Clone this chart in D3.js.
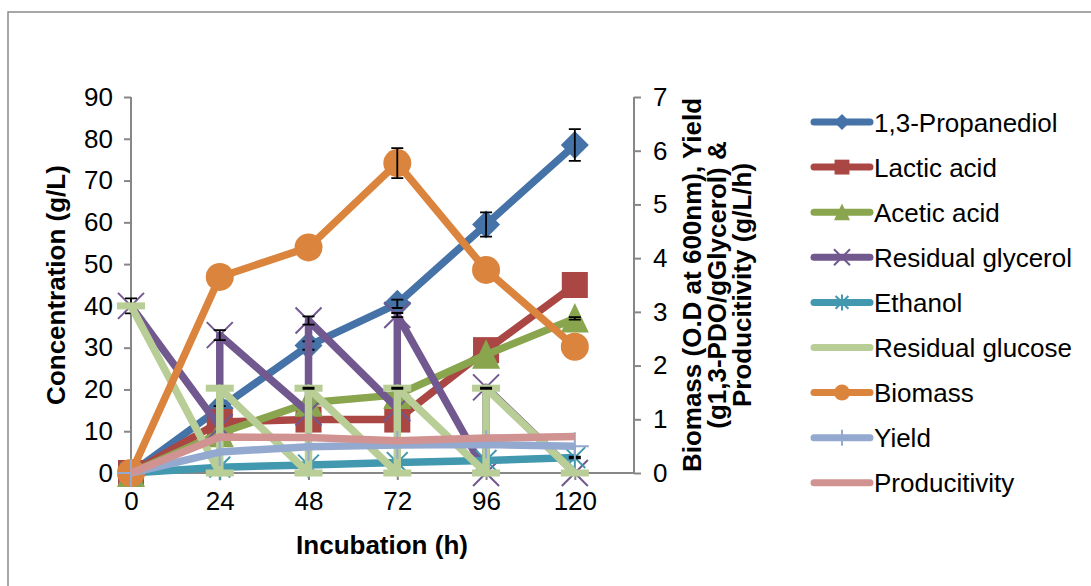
<!DOCTYPE html>
<html>
<head>
<meta charset="utf-8">
<script src="https://cdn.jsdelivr.net/npm/d3@7"></script>
<style>
  body { margin: 0; background: #fff; }
  text { font-family: "Liberation Sans", Arial, sans-serif; fill: #000; }
</style>
</head>
<body>
<div id="chart"></div>
<script>
// hours sampled
var hours = [0, 24, 48, 72, 96, 120];
var hourTicks = [0, 24, 48, 72, 96, 120];

// left axis series (g/L)
var propanediol = [0, 15.5, 30.5, 40.5, 59.5, 78.5];
var propanediolErr = [0, 0.5, 1, 1, 2.9, 3.8];
var lactic = [0, 12.2, 12.8, 12.8, 29.4, 45];
var acetic = [0, 9.5, 16.8, 18.7, 28.3, 37];
var aceticErr = [0, 0, 0, 0, 0, 0.3];
var ethanol = [0, 1.4, 1.9, 2.5, 3.0, 3.7];
var ethanolErr = [0, 0, 0, 0, 0, 0.2];

// these two were entered with repeated hours, giving the zigzag
var glycerolHours = [0, 24, 24, 48, 48, 72, 72, 96, 96, 120];
var glycerol = [40, 11, 33, 14.5, 36.5, 15.5, 37.8, 0, 20.5, 0];
var glycerolErr = [1.8, 0, 1.2, 0, 1, 0, 0.5, 0, 0.2, 0];
var glucose = [40, 0, 20.3, 0, 20.3, 0, 20.3, 0, 20.3, 0];
var glucoseErr = [0, 0, 0, 0, 0.15, 0, 0.15, 0, 0.15, 0];

// right axis series
var biomass = [0, 3.65, 4.2, 5.77, 3.78, 2.35];
var biomassErr = [0, 0, 0, 0.28, 0, 0];
var yieldV = [0, 0.39, 0.49, 0.52, 0.53, 0.5];
var productivity = [0, 0.67, 0.66, 0.6, 0.65, 0.68];

var leftTicks = [0, 10, 20, 30, 40, 50, 60, 70, 80, 90];
var rightTicks = [0, 1, 2, 3, 4, 5, 6, 7];

var width = 1091, height = 586;

var svg = d3.select("#chart").append("svg")
  .attr("width", width)
  .attr("height", height);

// outer chart border
svg.append("rect")
  .attr("x", 8).attr("y", 12)
  .attr("width", 1200).attr("height", 700)
  .attr("fill", "none")
  .attr("stroke", "#8a8a8a")
  .attr("stroke-width", 1.5);

// scales
var xscale = d3.scaleLinear().domain([0, 136]).range([131, 634]);
var yLeft = d3.scaleLinear().domain([0, 90]).range([473, 97]);
var yRight = d3.scaleLinear().domain([0, 7]).range([473, 97]);

var axisColor = "#878787";

// axes
var leftAxis = svg.append("g")
  .attr("transform", "translate(131,0)")
  .call(d3.axisLeft(yLeft).tickValues(leftTicks).tickSize(7).tickPadding(11).tickFormat(d3.format("d")));
var rightAxis = svg.append("g")
  .attr("transform", "translate(634,0)")
  .call(d3.axisRight(yRight).tickValues(rightTicks).tickSize(7).tickPadding(12).tickFormat(d3.format("d")));
var bottomAxis = svg.append("g")
  .attr("transform", "translate(0,473)")
  .call(d3.axisBottom(xscale).tickValues(hourTicks).tickSize(7).tickPadding(12).tickFormat(d3.format("d")));

[leftAxis, rightAxis, bottomAxis].forEach(function(a) {
  a.selectAll("path, line").attr("stroke", axisColor).attr("stroke-width", 2);
  a.select(".domain").attr("d", null);
  a.selectAll("text").attr("font-size", 26).attr("fill", "#000")
    .style("font-family", "'Liberation Sans', Arial, sans-serif");
});
// plain axis lines (no end ticks)
svg.append("line").attr("x1", 131).attr("x2", 131).attr("y1", 97).attr("y2", 473)
  .attr("stroke", axisColor).attr("stroke-width", 2);
svg.append("line").attr("x1", 634).attr("x2", 634).attr("y1", 97).attr("y2", 473)
  .attr("stroke", axisColor).attr("stroke-width", 2);
svg.append("line").attr("x1", 131).attr("x2", 634).attr("y1", 473).attr("y2", 473)
  .attr("stroke", axisColor).attr("stroke-width", 2);

// axis titles
svg.append("text")
  .attr("transform", "translate(65,285) rotate(-90)")
  .attr("text-anchor", "middle")
  .attr("font-size", 26).attr("font-weight", "bold")
  .text("Concentration (g/L)");

var rightTitle = ["Biomass (O.D at 600nm), Yield", "(g1,3-PDO/gGlycerol) &", "Producitivity (g/L/h)"];
rightTitle.forEach(function(t, i) {
  svg.append("text")
    .attr("transform", `translate(${701 + i * 25},285) rotate(-90)`)
    .attr("text-anchor", "middle")
    .attr("font-size", 26).attr("font-weight", "bold")
    .text(t);
});

svg.append("text")
  .attr("x", 382).attr("y", 554)
  .attr("text-anchor", "middle")
  .attr("font-size", 26).attr("font-weight", "bold")
  .text("Incubation (h)");

// marker shapes
function drawMarker(g, shape, x, y, color, s) {
  if (shape === "diamond") {
    g.append("path").attr("d", `M${x},${y - s}L${x + s},${y}L${x},${y + s}L${x - s},${y}Z`).attr("fill", color);
  } else if (shape === "square") {
    g.append("rect").attr("x", x - s * 0.93).attr("y", y - s * 0.93)
      .attr("width", s * 1.86).attr("height", s * 1.86).attr("fill", color);
  } else if (shape === "triangle") {
    g.append("path").attr("d", `M${x},${y - s * 1.1}L${x + s},${y + s}L${x - s},${y + s}Z`).attr("fill", color);
  } else if (shape === "circle") {
    g.append("circle").attr("cx", x).attr("cy", y).attr("r", s).attr("fill", color);
  } else if (shape === "x") {
    g.append("path").attr("d", `M${x - s},${y - s}L${x + s},${y + s}M${x - s},${y + s}L${x + s},${y - s}`)
      .attr("stroke", color).attr("stroke-width", 2).attr("fill", "none");
  } else if (shape === "star") {
    var k = s * 0.8;
    g.append("path").attr("d", `M${x - k},${y - k}L${x + k},${y + k}M${x - k},${y + k}L${x + k},${y - k}M${x},${y - s}L${x},${y + s}`)
      .attr("stroke", color).attr("stroke-width", 2).attr("fill", "none");
  } else if (shape === "plus") {
    g.append("path").attr("d", `M${x},${y - s}L${x},${y + s}M${x - s},${y}L${x + s},${y}`)
      .attr("stroke", color).attr("stroke-width", 2).attr("fill", "none");
  } else if (shape === "dash") {
    g.append("rect").attr("x", x - s).attr("y", y - 3.5)
      .attr("width", s * 2).attr("height", 7).attr("fill", color);
  }
}

var series = [
  { name: "1,3-Propanediol", xs: hours, ys: propanediol, err: propanediolErr, y: yLeft, color: "#4572A7", shape: "diamond", size: 14 },
  { name: "Lactic acid", xs: hours, ys: lactic, err: null, y: yLeft, color: "#AA4643", shape: "square", size: 14 },
  { name: "Acetic acid", xs: hours, ys: acetic, err: aceticErr, y: yLeft, color: "#89A54E", shape: "triangle", size: 14 },
  { name: "Residual glycerol", xs: glycerolHours, ys: glycerol, err: glycerolErr, y: yLeft, color: "#71588F", shape: "x", size: 13 },
  { name: "Ethanol", xs: hours, ys: ethanol, err: ethanolErr, y: yLeft, color: "#4198AF", shape: "star", size: 13 },
  { name: "Residual glucose", xs: glycerolHours, ys: glucose, err: glucoseErr, y: yLeft, color: "#B9CD96", shape: "dash", size: 14 },
  { name: "Biomass", xs: hours, ys: biomass, err: biomassErr, y: yRight, color: "#DB843D", shape: "circle", size: 14 },
  { name: "Yield", xs: hours, ys: yieldV, err: null, y: yRight, color: "#93A9CF", shape: "plus", size: 14 },
  { name: "Producitivity", xs: hours, ys: productivity, err: null, y: yRight, color: "#D19392", shape: "none", size: 0 }
];

var plot = svg.append("g");

series.forEach(function(s) {
  var g = plot.append("g");
  var pts = s.xs.map(function(h, i) { return [xscale(h), s.y(s.ys[i])]; });
  g.append("path")
    .attr("d", d3.line()(pts))
    .attr("fill", "none")
    .attr("stroke", s.color)
    .attr("stroke-width", 7.5)
    .attr("stroke-linejoin", "round");
  pts.forEach(function(p) { drawMarker(g, s.shape, p[0], p[1], s.color, s.size); });
  // error bars
  if (s.err) {
    s.err.forEach(function(e, i) {
      if (!e) return;
      var x = xscale(s.xs[i]);
      var y1 = s.y(s.ys[i] + e), y2 = s.y(s.ys[i] - e);
      g.append("path")
        .attr("d", `M${x},${y1}L${x},${y2}M${x - 6},${y1}L${x + 6},${y1}M${x - 6},${y2}L${x + 6},${y2}`)
        .attr("stroke", "#000").attr("stroke-width", 1.8).attr("fill", "none");
    });
  }
});

// legend
var legend = svg.append("g");
series.forEach(function(s, i) {
  var y = 122 + i * 45.1;
  legend.append("line")
    .attr("x1", 814).attr("x2", 870).attr("y1", y).attr("y2", y)
    .attr("stroke", s.color).attr("stroke-width", 7)
    .attr("stroke-linecap", "round");
  drawMarker(legend, s.shape, 842, y, s.color, s.shape === "dash" ? 0 : 8);
  legend.append("text")
    .attr("x", 874).attr("y", y + 9.5)
    .attr("font-size", 26)
    .text(s.name);
});
</script>
</body>
</html>
